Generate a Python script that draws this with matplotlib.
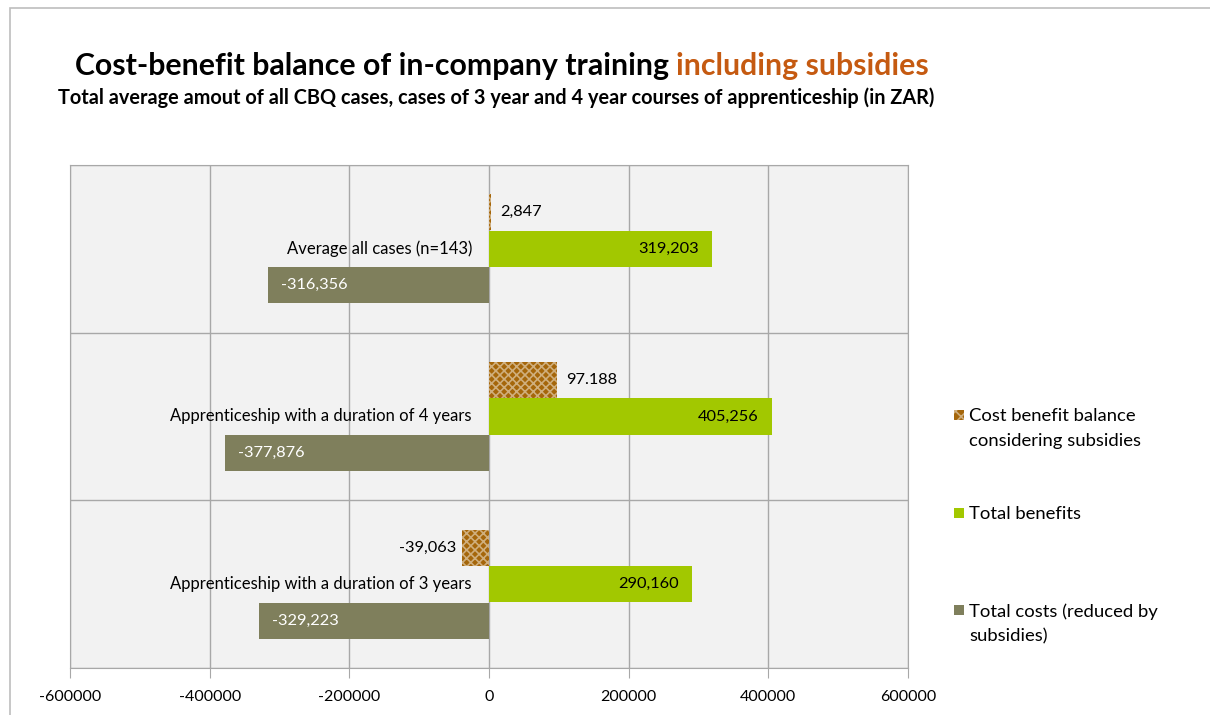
import numpy as np
import matplotlib
matplotlib.use("Agg")
import matplotlib.pyplot as plt
from matplotlib.patches import Rectangle

plt.rcParams["font.family"] = ["Lato", "DejaVu Sans"]

# ---- data (top to bottom) ----
categories = [
    "Average all cases (n=143)",
    "Apprenticeship with a duration of 4 years",
    "Apprenticeship with a duration of 3 years",
]
balance = [2847, 97188, -39063]
benefits = [319203, 405256, 290160]
costs = [-316356, -377876, -329223]
balance_labels = ["2,847", "97.188", "-39,063"]
benefit_labels = ["319,203", "405,256", "290,160"]
cost_labels = ["-316,356", "-377,876", "-329,223"]
series_names = [
    "Cost benefit balance\nconsidering subsidies",
    "Total benefits",
    "Total costs (reduced by\nsubsidies)",
]
xticks = [-600000, -400000, -200000, 0, 200000, 400000, 600000]

BROWN = "#A5660A"
HATCH = "#CFAE7C"
GREEN = "#A2C800"
OLIVE = "#7F7F5C"
GRID = "#A8A8A8"

W, H = 1210, 715
fig = plt.figure(figsize=(W / 100, H / 100), dpi=100)
fig.patch.set_facecolor("white")

# outer chart border
fig.add_artist(Rectangle((10 / W, -0.1), 1.2, 1 - 8 / H + 0.1, transform=fig.transFigure,
                         fill=False, edgecolor="#BDBDBD", linewidth=1.2))

ax = fig.add_axes([70 / W, 1 - 668 / H, (908 - 70) / W, (668 - 165) / H])
ax.set_facecolor("#F2F2F2")

centers = np.arange(len(categories)) + 0.5
bh = 0.215
off = 0.218

plt.rcParams["hatch.linewidth"] = 1.2
ax.barh(centers - off, balance, height=bh, color=BROWN, edgecolor=HATCH,
        hatch="xxxx", linewidth=0, zorder=3)
ax.barh(centers, benefits, height=bh, color=GREEN, linewidth=0, zorder=3)
ax.barh(centers + off, costs, height=bh, color=OLIVE, linewidth=0, zorder=3)

ax.set_xlim(-600000, 600000)
ax.set_ylim(3, 0)
ax.set_xticks(xticks)
ax.set_xticklabels([str(t) for t in xticks], fontsize=11.5)
ax.set_yticks([0, 1, 2, 3])
ax.set_yticklabels([])
ax.tick_params(axis="y", length=0)
ax.tick_params(axis="x", length=7, color=GRID, direction="out", pad=9)
ax.grid(True, color=GRID, linewidth=1, zorder=0)
for sp in ax.spines.values():
    sp.set_color(GRID)

# data labels
px = 1200000 / (908 - 70)  # data units per pixel
fs = 11.8
for c, v, lab in zip(centers, balance, balance_labels):
    if v >= 0:
        ax.text(v + 9 * px, c - off, lab, ha="left", va="center", fontsize=fs, zorder=4)
    else:
        ax.text(v - 5 * px, c - off, lab, ha="right", va="center", fontsize=fs, zorder=4)
for c, v, lab in zip(centers, benefits, benefit_labels):
    ax.text(v - 13 * px, c, lab, ha="right", va="center", fontsize=fs, zorder=4)
for c, v, lab in zip(centers, costs, cost_labels):
    ax.text(v + 13 * px, c + off, lab, ha="left", va="center", fontsize=fs,
            color="white", zorder=4)
for c, lab in zip(centers, categories):
    ax.text(-17 * px, c, lab, ha="right", va="center", fontsize=12, zorder=4)

# titles
t1 = fig.text(75 / W, 1 - 66 / H, "Cost-benefit balance of in-company training ", fontsize=21.8,
              fontweight="bold", ha="left", va="center")
fig.canvas.draw()
r = t1.get_window_extent()
fig.text(r.x1 / W, 1 - 66 / H, "including subsidies", fontsize=21.8, fontweight="bold",
         color="#C55A11", ha="left", va="center")
fig.text(58 / W, 1 - 98 / H,
         "Total average amout of all CBQ cases, cases of 3 year and 4 year courses of apprenticeship (in ZAR)",
         fontsize=14.3, fontweight="bold", ha="left", va="center")

# legend, drawn by hand so the text lines sit like the original
leg_y = [415, 513, 610]
leg_fc = [BROWN, GREEN, OLIVE]
for y, name, fc in zip(leg_y, series_names, leg_fc):
    kw = dict(hatch="xxx", edgecolor=HATCH) if fc == BROWN else dict(edgecolor="none")
    fig.add_artist(Rectangle((954 / W, 1 - (y + 5) / H), 10 / W, 10 / H,
                             transform=fig.transFigure, facecolor=fc, linewidth=0, **kw))
    fig.text(969 / W, 1 - (y - 7) / H, name, fontsize=13.3, ha="left", va="top",
             linespacing=1.7)

fig.savefig("out.png", dpi=100)
